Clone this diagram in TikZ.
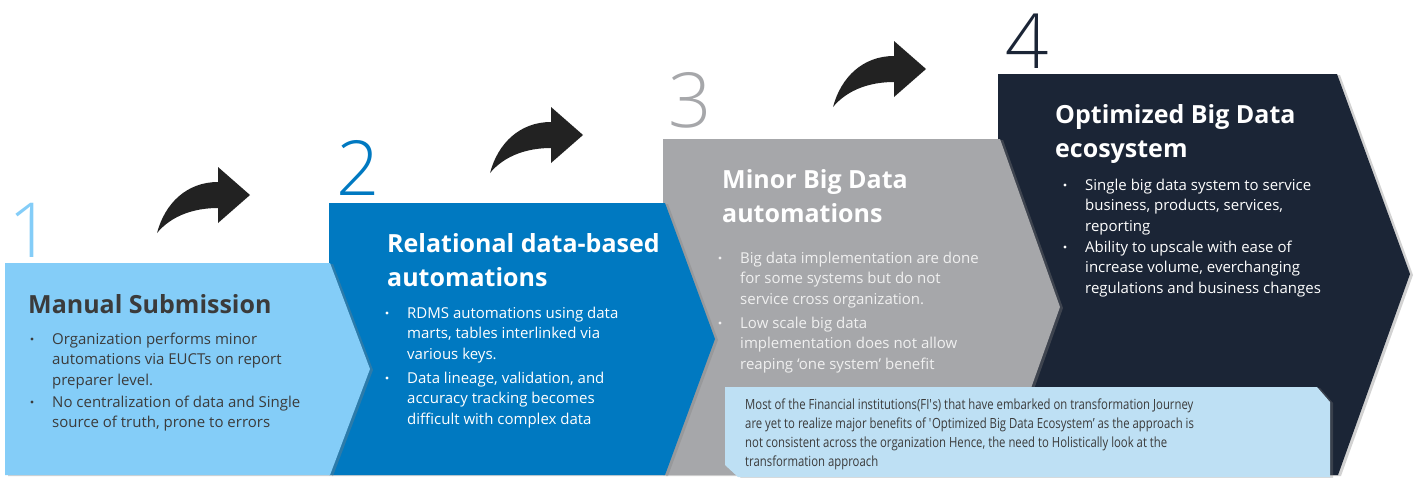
\documentclass[tikz,border=0pt]{standalone}
\usepackage{fontspec}
\setmainfont{Open Sans}
% thinner cut for the step numbers where the system has it
\IfFontExistsTF{Open Sans Light}{\newfontfamily\numfont{Open Sans Light}}{\newfontfamily\numfont{Open Sans}}
\newfontfamily\notefont{Open Sans}[FakeStretch=0.81]
\usetikzlibrary{shadows}

\definecolor{stepone}{HTML}{84CDF8}
\definecolor{steptwo}{HTML}{0079C1}
\definecolor{stepthree}{HTML}{A6A7AA}
\definecolor{stepfour}{HTML}{1B2536}
\definecolor{notefill}{HTML}{BEE0F4}
\definecolor{darktext}{HTML}{3B3B3B}
\definecolor{softwhite}{HTML}{F0F0F0}
\definecolor{arrowblack}{HTML}{222222}

\tikzset{
  chevron/.style={drop shadow={shadow xshift=3pt,shadow yshift=-1pt,opacity=0.35}},
  stepnum/.style={anchor=base west,inner sep=0,font=\numfont\fontsize{76}{76}\selectfont},
  heading/.style={anchor=base west,inner sep=0,font=\fontsize{25}{34}\selectfont\bfseries},
  bodytext/.style={anchor=base west,inner sep=0,font=\fontsize{15}{20.9}\selectfont},
  notetext/.style={anchor=base west,inner sep=0,text=darktext,font=\notefont\fontsize{14}{19}\selectfont},
  bentarrow/.pic={
    \fill[arrowblack] (0,0) .. controls (8,-30) and (30,-51) .. (61,-51) -- (61,-66)
      -- (93,-38) -- (61,-10) -- (61,-25) .. controls (38,-25) and (15,-18) .. cycle;}
}

% lines stacked under the baseline of the first one
\newcommand\stack[1]{\begin{tabular}[t]{@{}l@{}}#1\end{tabular}}
% one bullet: node name, x, baseline y, colour, lines
\newcommand\bitem[5]{%
  \fill[#4] (#2-20,#3-5) circle (1.6);
  \node[bodytext,text=#4] (#1) at (#2,#3) {\stack{#5}};}

\begin{document}
\begin{tikzpicture}[x=1pt,y=-1pt]
  \fill[white] (0,0) rectangle (1419,477);
  \useasboundingbox (0,0) rectangle (1419,477);
  % chevrons, back to front
  \fill[stepfour,chevron] (998,74) -- (1337,74) -- (1410,274) -- (1338,475) -- (998,475) -- cycle;
  \fill[stepthree,chevron] (663,139) -- (1000,139) -- (1060,307) -- (1000,475) -- (663,475) -- cycle;
  \fill[steptwo,chevron] (329,203) -- (665,203) -- (715,339) -- (665,475) -- (329,475) -- cycle;
  \fill[stepone,chevron] (5,263) -- (330,263) -- (370,369) -- (330,475) -- (5,475) -- cycle;
  % step numbers
  \node[stepnum,text=stepone] (n1) at (8,257) {1};
  \node[stepnum,text=steptwo] (n2) at (336,195) {2};
  \node[stepnum,text=stepthree] (n3) at (668,127) {3};
  \node[stepnum,text=stepfour] (n4) at (1005,68) {4};
  % arrows between the steps
  \pic at (157,233) {bentarrow};
  \pic at (490,173) {bentarrow};
  \pic at (833,107) {bentarrow};
  % headings
  \node[heading,text=darktext] (h1) at (28,313) {Manual Submission};
  \node[heading,text=white] (h2) at (387,252) {\stack{Relational data-based\\automations}};
  \node[heading,text=white] (h3) at (722,188) {\stack{Minor Big Data\\automations}};
  \node[heading,text=white] (h4) at (1055,123) {\stack{Optimized Big Data\\ecosystem}};
  % bullet points
  \bitem{b11}{52}{344}{darktext}{Organization performs minor\\automations via EUCTs on report\\preparer level.}
  \bitem{b12}{52}{407}{darktext}{No centralization of data and Single\\source of truth, prone to errors}
  \bitem{b21}{407}{318}{white}{RDMS automations using data\\marts, tables interlinked via\\various keys.}
  \bitem{b22}{407}{383}{white}{Data lineage, validation, and\\accuracy tracking becomes\\difficult with complex data}
  \bitem{b31}{740}{263}{softwhite}{Big data implementation are done\\for some systems but do not\\service cross organization.}
  \bitem{b32}{740}{328}{softwhite}{Low scale big data\\implementation does not allow\\reaping ‘one system’ benefit}
  \bitem{b41}{1085}{190}{white}{Single big data system to service\\business, products, services,\\reporting}
  \bitem{b42}{1085}{252}{white}{Ability to upscale with ease of\\increase volume, everchanging\\regulations and business changes}
  % note box
  \fill[notefill,drop shadow={shadow xshift=3pt,shadow yshift=-1pt,opacity=0.3}]
    (725,387) -- (1317,387) -- (1330,402) -- (1330,477) -- (738,477) -- (725,465) -- cycle;
  \node[notetext] (note) at (745,409) {\stack{Most of the Financial institutions(FI\textquotesingle s) that have embarked on transformation Journey\\
    are yet to realize major benefits of \textquotesingle Optimized Big Data Ecosystem’ as the approach is\\
    not consistent across the organization Hence, the need to Holistically look at the\\
    transformation approach}};
\end{tikzpicture}
\end{document}
